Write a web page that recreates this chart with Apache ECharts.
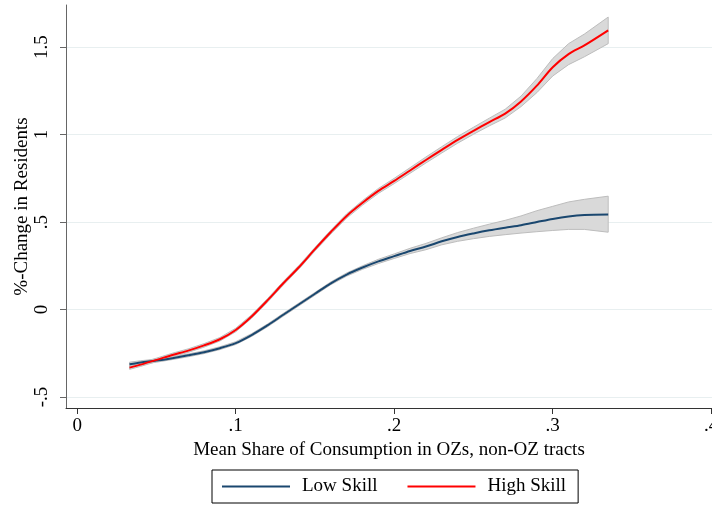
<!DOCTYPE html>
<html>
<head>
<meta charset="utf-8">
<script src="https://cdn.jsdelivr.net/npm/echarts@6/dist/echarts.min.js"></script>
<style>
html,body{margin:0;padding:0;background:#fff;}
#chart{width:712px;height:506px;}
</style>
</head>
<body>
<div id="chart"></div>
<script>
// Data
const xVals = [0.033,0.04,0.05,0.06,0.07,0.08,0.09,0.10,0.11,0.12,0.13,0.14,0.15,0.16,0.17,0.18,0.19,0.20,0.21,0.22,0.23,0.24,0.25,0.26,0.27,0.28,0.29,0.30,0.31,0.32,0.335];
const lowSkill = [-0.313,-0.303,-0.292,-0.278,-0.262,-0.244,-0.221,-0.192,-0.146,-0.091,-0.03,0.03,0.09,0.15,0.2,0.24,0.275,0.305,0.335,0.36,0.39,0.415,0.435,0.453,0.468,0.482,0.5,0.518,0.532,0.54,0.543];
const lowSkillUpper = [-0.301,-0.293,-0.283,-0.270,-0.254,-0.236,-0.213,-0.184,-0.138,-0.083,-0.022,0.038,0.098,0.158,0.209,0.25,0.287,0.318,0.35,0.378,0.41,0.44,0.465,0.488,0.51,0.535,0.565,0.59,0.615,0.63,0.648];
const lowSkillLower = [-0.325,-0.313,-0.301,-0.286,-0.270,-0.252,-0.229,-0.200,-0.154,-0.099,-0.038,0.022,0.082,0.142,0.191,0.23,0.263,0.292,0.32,0.342,0.37,0.39,0.405,0.418,0.428,0.437,0.445,0.452,0.458,0.458,0.442];
const highSkill = [-0.332,-0.315,-0.288,-0.26,-0.235,-0.205,-0.17,-0.117,-0.04,0.052,0.15,0.243,0.345,0.443,0.535,0.61,0.678,0.735,0.795,0.855,0.913,0.97,1.022,1.072,1.12,1.19,1.28,1.385,1.46,1.51,1.596];
const highSkillUpper = [-0.322,-0.305,-0.278,-0.25,-0.225,-0.195,-0.16,-0.107,-0.03,0.062,0.16,0.253,0.355,0.454,0.547,0.623,0.692,0.75,0.811,0.872,0.931,0.989,1.042,1.094,1.145,1.22,1.32,1.435,1.52,1.575,1.672];
const highSkillLower = [-0.342,-0.325,-0.298,-0.27,-0.245,-0.215,-0.18,-0.127,-0.05,0.042,0.14,0.233,0.335,0.432,0.523,0.597,0.664,0.72,0.779,0.838,0.895,0.951,1.002,1.05,1.095,1.16,1.24,1.335,1.40,1.445,1.52];
const xTicks = [0,0.1,0.2,0.3,0.4];
const yTicks = [-0.5,0,0.5,1,1.5];
const seriesNames = ['Low Skill','High Skill'];
const xTitle = 'Mean Share of Consumption in OZs, non-OZ tracts';
const yTitle = '%-Change in Residents';

const FONT = 'Liberation Serif';
function fmt(v){ return String(v).replace(/^(-?)0\./, '$1.'); }
function pairs(ys){ return xVals.map((x,i)=>[x, ys[i]]); }
function band(lo, hi){
  return function(params, api){
    if (params.dataIndex !== 0) return null;
    const pts = [];
    for (let i=0;i<xVals.length;i++) pts.push(api.coord([xVals[i], hi[i]]));
    for (let i=xVals.length-1;i>=0;i--) pts.push(api.coord([xVals[i], lo[i]]));
    return {type:'polygon', shape:{points:pts}, style:{fill:'#d9d9d9', stroke:'#bdbdbd', lineWidth:1}};
  };
}

const chart = echarts.init(document.getElementById('chart'), null, {renderer:'canvas'});
chart.setOption({
  animation:false,
  backgroundColor:'#fff',
  grid:{left:66, right:0, top:5, bottom:98, containLabel:false, outerBoundsMode:'none'},
  xAxis:{
    type:'value', min:-0.0071, max:0.4005,
    name:xTitle, nameLocation:'middle', nameGap:33, nameMoveOverlap:false,
    nameTextStyle:{fontFamily:FONT, fontSize:19, color:'#000'},
    axisLine:{show:true, onZero:false, lineStyle:{color:'#333', width:1}},
    axisTick:{show:true, length:6, customValues:xTicks, lineStyle:{color:'#333'}},
    axisLabel:{customValues:xTicks, formatter:fmt, margin:9, fontFamily:FONT, fontSize:19, color:'#000', showMaxLabel:true, hideOverlap:false},
    splitLine:{show:false}
  },
  yAxis:{
    type:'value', min:-0.563, max:1.741,
    name:yTitle, nameLocation:'middle', nameGap:34, nameMoveOverlap:false,
    nameTextStyle:{fontFamily:FONT, fontSize:19, color:'#000'},
    axisLine:{show:true, onZero:false, lineStyle:{color:'#666', width:1}},
    axisTick:{show:true, length:6, customValues:yTicks, lineStyle:{color:'#666'}},
    axisLabel:{customValues:yTicks, formatter:fmt, rotate:90, margin:14, fontFamily:FONT, fontSize:19, color:'#000'},
    splitLine:{show:true, lineStyle:{color:'#e8eff0', width:1}}
  },
  legend:{
    data:seriesNames,
    left:212, top:470,
    orient:'horizontal',
    icon:'rect', itemWidth:68, itemHeight:2,
    itemGap:30,
    padding:[7,12,7,10],
    borderColor:'#000', borderWidth:1,
    textStyle:{fontFamily:FONT, fontSize:19, color:'#000', padding:[0,0,0,7]}
  },
  series:[
    {type:'custom', name:'lowBand', renderItem:band(lowSkillLower, lowSkillUpper), data:pairs(lowSkill), silent:true, z:1},
    {type:'custom', name:'highBand', renderItem:band(highSkillLower, highSkillUpper), data:pairs(highSkill), silent:true, z:1},
    {type:'line', name:seriesNames[0], data:pairs(lowSkill), symbol:'none', smooth:0.3, z:3,
     color:'#1a476f', lineStyle:{color:'#1a476f', width:2}, itemStyle:{color:'#1a476f'}},
    {type:'line', name:seriesNames[1], data:pairs(highSkill), symbol:'none', smooth:0.3, z:4,
     color:'#ff0000', lineStyle:{color:'#ff0000', width:2}, itemStyle:{color:'#ff0000'}}
  ]
});
</script>
</body>
</html>
